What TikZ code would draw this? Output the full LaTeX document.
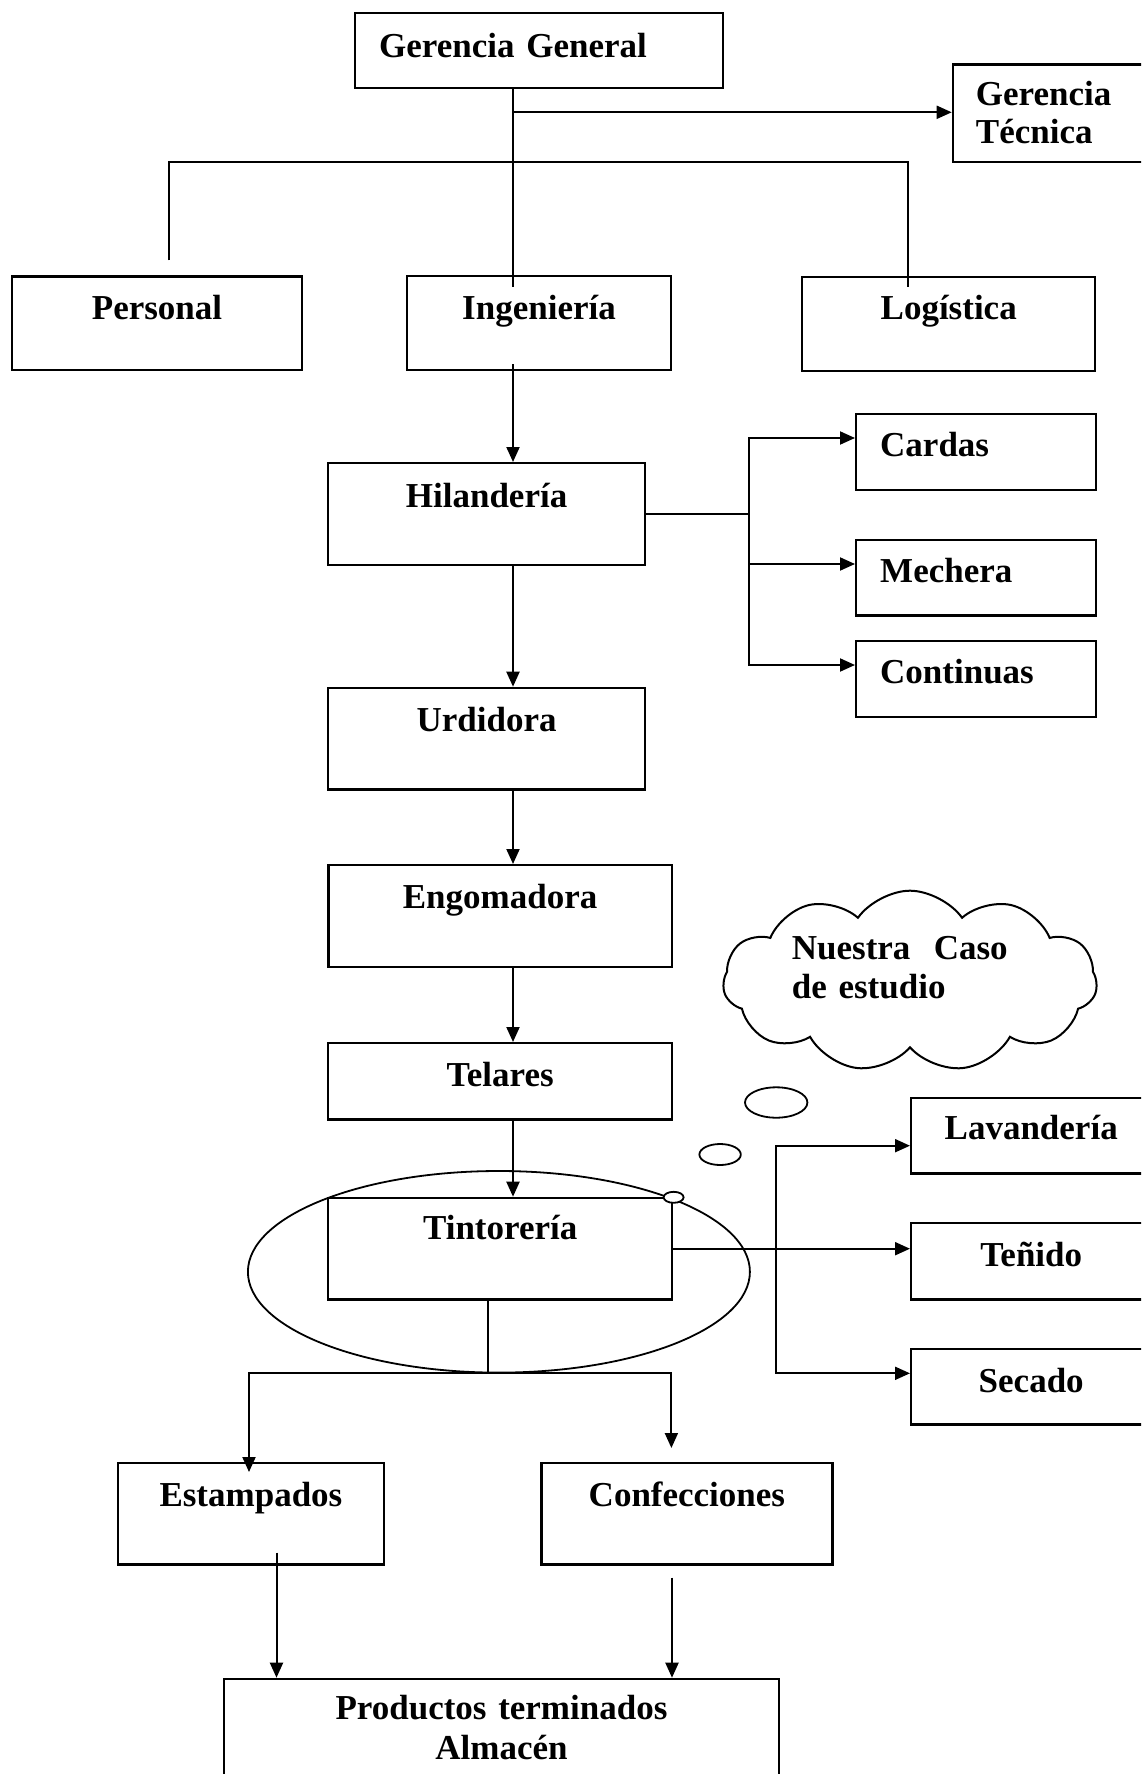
\documentclass[tikz,border=0pt]{standalone}
\usepackage{fontspec}
\setmainfont{Liberation Serif}
\usetikzlibrary{arrows.meta,calc,shapes.geometric,shapes.symbols}
\newcommand\bxfont{\bfseries\fontsize{35}{38.3}\selectfont}
\tikzset{
  bx/.style={draw, line width=2.4pt, fill=white, inner xsep=0pt, inner ysep=0pt,
    font=\bxfont, anchor=north west, align=center},
  lbx/.style={bx, align=left, inner xsep=24pt, text width=#1},
  ln/.style={line width=2pt},
  ar/.style={line width=2pt, -{Triangle[length=15pt,width=13pt]}},
  arr2/.style={line width=2pt, {Triangle[length=15pt,width=13pt]}-{Triangle[length=15pt,width=13pt]}},
  bubble/.style={ellipse, draw, line width=1.8pt, inner sep=0pt, fill=white},
}
\begin{document}
\begin{tikzpicture}[x=1pt,y=-1pt]
\useasboundingbox (0,0) rectangle (1141,1774);
\clip (0,0) rectangle (1141,1774);
\fill[white] (0,0) rectangle (1141,1774);

% oval round Tintoreria
\node[bubble, fill=none, minimum width=502pt, minimum height=201.6pt] (oval) at (498.9,1271.8) {};

% boxes
\node[lbx=320pt, inner xsep=22pt, minimum width=368pt, text height=44pt, text depth=31pt] (GG) at (354,12) {Gerencia General};
\node[lbx=194pt, inner xsep=23pt, text height=40.7pt, text depth=57pt] (GT) at (951.7,63.3) {Gerencia\\T\'ecnica};
\node[bx, minimum width=289.6pt, text height=42.7pt, text depth=51pt] (Per) at (11,275.3) {Personal};
\node[bx, minimum width=263.6pt, text height=43pt, text depth=51pt] (Ing) at (406,275) {Ingenier\'ia};
\node[bx, minimum width=293pt, text height=42pt, text depth=52pt] (Log) at (801,276) {Log\'istica};
\node[bx, minimum width=317.1pt, text height=44pt, text depth=58pt] (Hil) at (326.8,462) {Hilander\'ia};
\node[lbx=192pt, text height=42.3pt, text depth=33.7pt] (Car) at (855,412.7) {Cardas};
\node[lbx=192pt, text height=42.7pt, text depth=32.6pt] (Mec) at (855,539) {Mechera};
\node[lbx=192pt, text height=42.3pt, text depth=33.4pt] (Cnt) at (855,640) {Continuas};
\node[bx, minimum width=317.1pt, text height=43.3pt, text depth=58.3pt] (Urd) at (326.8,686.7) {Urdidora};
\node[bx, minimum width=343.4pt, text height=43.3pt, text depth=58.7pt] (Eng) at (327.2,864) {Engomadora};
\node[bx, minimum width=344pt, text height=43pt, text depth=33.3pt] (Tel) at (327,1042) {Telares};
\node[bx, minimum width=344pt, text height=41.3pt, text depth=60.3pt] (Tin) at (327,1196.7) {Tintorer\'ia};
\node[bx, minimum width=240pt, text height=41.6pt, text depth=34pt] (Lav) at (910,1096.7) {Lavander\'ia};
\node[bx, minimum width=240pt, text height=43.3pt, text depth=33.3pt] (Ten) at (910,1221.7) {Te\~nido};
\node[bx, minimum width=240pt, text height=44pt, text depth=31.6pt] (Sec) at (910,1347.7) {Secado};
\node[bx, minimum width=265.9pt, text height=43pt, text depth=58.3pt] (Est) at (116.8,1462) {Estampados};
\node[bx, minimum width=290.8pt, text height=43pt, text depth=58.3pt] (Cnf) at (540.3,1462) {Confecciones};
\node[bx, text width=500pt, inner xsep=27.3pt, text height=40.6pt, text depth=89.4pt,
  font=\bfseries\fontsize{35}{40}\selectfont] (Pro) at (223,1677.7) {Productos terminados\\Almac\'en};

% thought cloud and bubbles
\node[cloud, draw, line width=2pt, fill=white, cloud puffs=11, cloud puff arc=110, aspect=2.07,
  minimum width=374pt, minimum height=181pt, inner sep=0pt] (cloud) at (910,981.2) {};
\node[anchor=base west, inner sep=0pt, text width=240pt, align=left,
  font=\bfseries\fontsize{35}{38.7}\selectfont] (cloudtxt) at (791.7,959.3) {Nuestra\ \ Caso\\de estudio};
\node[bubble, minimum width=62.4pt, minimum height=30.4pt] (b1) at (776.2,1102.5) {};
\node[bubble, minimum width=41.4pt, minimum height=21pt] (b2) at (720.1,1154.5) {};
\node[bubble, minimum width=20pt, minimum height=11pt] (b3) at (673.6,1197.3) {};

% connectors
\coordinate (trunk) at (513,112.3);
\coordinate (busL) at (169,161.7);
\coordinate (busR) at (907.6,161.7);
\draw[ln] (GG.south -| trunk) -- ($(Ing.north -| trunk)+(0,12)$);
\draw[ar] (trunk) -- (GT.west |- trunk);
\draw[ln] ($(Per.north -| busL)+(0,-15)$) -- (busL) -- (busR) -- ($(Log.north -| busR)+(0,11)$);
\draw[ar] ($(Ing.south -| trunk)+(0,-7)$) -- (Hil.north -| trunk);

\coordinate (fC) at (748.5,438);
\coordinate (fK) at (748.5,665);
\coordinate (fM) at (750,564);
\draw[ln] (Hil.east) -- (Hil.east -| fC);
\draw[arr2] (Car.west |- fC) -- (fC) -- (fK) -- (Cnt.west |- fK);
\draw[ar] (fM) -- (Mec.west |- fM);

\draw[ar] (Hil.south -| trunk) -- (Urd.north -| trunk);
\draw[ar] (Urd.south -| trunk) -- (Eng.north -| trunk);
\draw[ar] (Eng.south -| trunk) -- (Tel.north -| trunk);
\draw[ar] (Tel.south -| trunk) -- (Tin.north -| trunk);

\draw[ar] (Tin.east) -- (Ten.west |- Tin.east);
\coordinate (lv) at (776.2,1145.7);
\coordinate (sv) at (776.2,1373.3);
\draw[arr2] (Lav.west |- lv) -- (lv) -- (sv) -- (Sec.west |- sv);

\coordinate (tb) at (488,1372.7);
\coordinate (tl) at (249,1372.7);
\coordinate (tr) at (671.4,1372.7);
\draw[ln] (Tin.south -| tb) -- (tb);
\draw[ar] (tb) -- (tl) -- ($(Est.north -| tl)+(0,10)$);
\draw[ar] (tb) -- (tr) -- ($(Cnf.north -| tr)+(0,-14)$);

\coordinate (ex) at (276.5,1600);
\coordinate (cx) at (672,1600);
\draw[ar] ($(Est.south -| ex)+(0,-13)$) -- (Pro.north -| ex);
\draw[ar] ($(Cnf.south -| cx)+(0,12)$) -- (Pro.north -| cx);
\end{tikzpicture}
\end{document}
